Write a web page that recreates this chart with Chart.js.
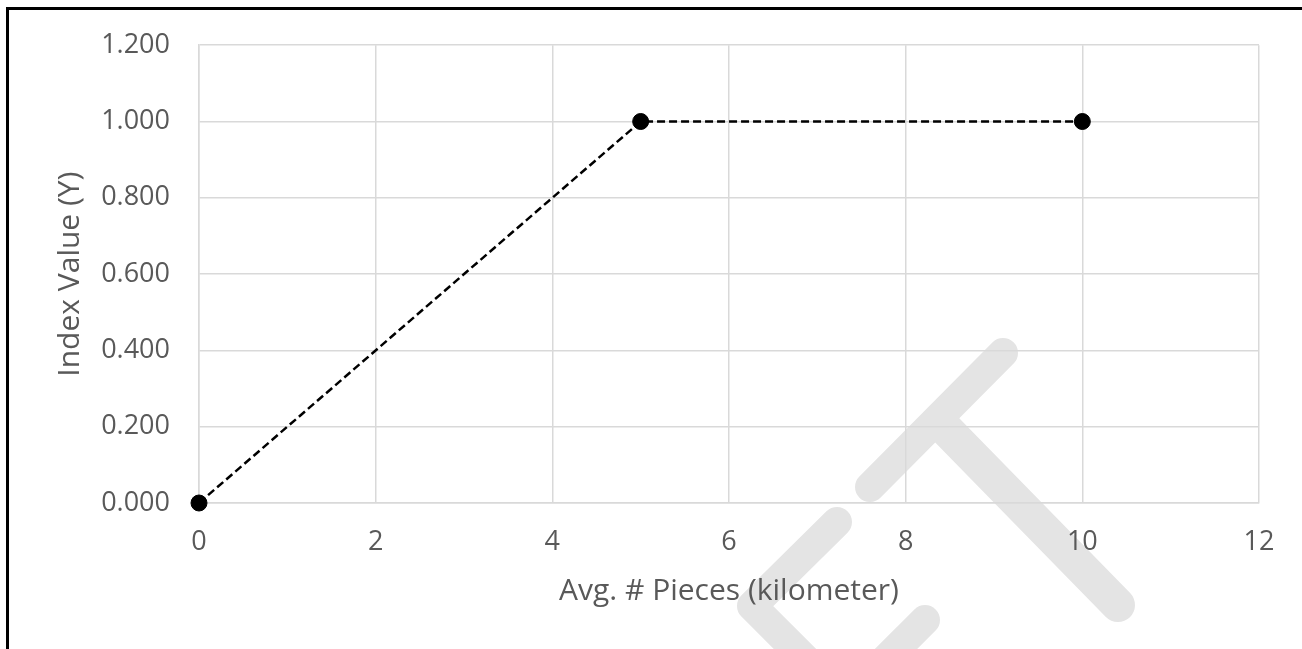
<!DOCTYPE html>
<html>
<head>
<meta charset="utf-8">
<script src="https://cdn.jsdelivr.net/npm/chart.js@4/dist/chart.umd.min.js"></script>
<style>
  html, body { margin: 0; padding: 0; background: #fff; overflow: hidden; }
  #frame { position: absolute; left: 6px; top: 7px; width: 1400px; height: 800px; border: 3px solid #000; box-sizing: border-box; }
  #chart { position: absolute; left: 0; top: 0; }
</style>
</head>
<body>
<div id="frame"></div>
<canvas id="chart" width="1302" height="649"></canvas>
<script>
// ---- 数据 ----
const xValues = [0, 5, 10];
const yValues = [0, 1, 1];
const xTicks = { min: 0, max: 12, step: 2 };
const yTicks = { min: 0, max: 1.2, step: 0.2 };
const xTitle = 'Avg. # Pieces (kilometer)';
const yTitle = 'Index Value (Y)';

const textColor = '#595959';
const gridColor = '#d9d9d9';

// 背景水印（装饰），darken 混合，重叠处不加深
const watermark = {
  id: 'watermark',
  afterDraw(chart) {
    const ctx = chart.ctx;
    ctx.save();
    ctx.globalCompositeOperation = 'darken';
    ctx.strokeStyle = '#e4e4e4';
    ctx.lineCap = 'round';
    ctx.lineJoin = 'round';
    const strokes = [
      { w: 30, pts: [[1003, 353], [870, 487]] },
      { w: 34, pts: [[941, 424], [1118, 605]] },
      { w: 30, pts: [[837, 522], [752, 606], [820, 674]] },
      { w: 30, pts: [[925, 620], [868, 677]] },
    ];
    strokes.forEach(s => {
      ctx.lineWidth = s.w;
      ctx.beginPath();
      s.pts.forEach(([x, y], i) => i ? ctx.lineTo(x, y) : ctx.moveTo(x, y));
      ctx.stroke();
    });
    ctx.restore();
  },
};

new Chart(document.getElementById('chart'), {
  type: 'scatter',
  data: {
    datasets: [{
      data: xValues.map((x, i) => ({ x, y: yValues[i] })),
      showLine: true,
      clip: false,
      borderColor: '#000',
      borderWidth: 2.5,
      borderDash: [8, 4],
      pointRadius: 8,
      pointHoverRadius: 8,
      pointBackgroundColor: '#000',
      pointBorderColor: '#000',
      pointBorderWidth: 1,
    }],
  },
  options: {
    responsive: false,
    animation: false,
    devicePixelRatio: 1,
    layout: { padding: { top: 45, right: 43, bottom: 0, left: 0 } },
    plugins: { legend: { display: false }, tooltip: { enabled: false } },
    scales: {
      x: {
        type: 'linear',
        min: xTicks.min,
        max: xTicks.max,
        afterFit: s => { s.height = 146; },
        ticks: { stepSize: xTicks.step, color: textColor, padding: 23, font: { family: 'Open Sans', size: 27 } },
        grid: { color: gridColor, lineWidth: 1.5, drawTicks: false },
        border: { color: gridColor, width: 1.5 },
        title: { display: true, text: xTitle, color: textColor, padding: { bottom: 40, top: 0 }, font: { family: 'Open Sans', size: 30 } },
      },
      y: {
        type: 'linear',
        min: yTicks.min,
        max: yTicks.max,
        afterFit: s => { s.width = 199; },
        ticks: { stepSize: yTicks.step, color: textColor, padding: 29, font: { family: 'Open Sans', size: 27 }, callback: v => v.toFixed(3) },
        grid: { color: gridColor, lineWidth: 1.5, drawTicks: false },
        border: { color: gridColor, width: 1.5 },
        title: { display: true, text: yTitle, color: textColor, padding: { top: 52, bottom: 0 }, font: { family: 'Open Sans', size: 30 } },
      },
    },
  },
  plugins: [watermark],
});
</script>
</body>
</html>
